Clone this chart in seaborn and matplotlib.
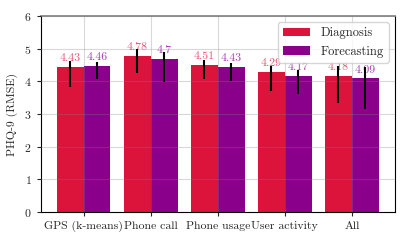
import pandas as pd
import numpy as np
import matplotlib
matplotlib.use("Agg")
import matplotlib.pyplot as plt
import seaborn as sns

# values
features = ["GPS (k-means)", "Phone call", "Phone usage", "User activity", "All"]
diagnosis = [4.43, 4.78, 4.51, 4.29, 4.18]
forecasting = [4.46, 4.70, 4.43, 4.17, 4.09]
# error bar ends (low, high)
diag_low = [3.82, 4.25, 4.07, 3.70, 3.33]
diag_high = [4.63, 4.98, 4.65, 4.48, 4.47]
fore_low = [4.07, 3.97, 4.01, 3.61, 3.15]
fore_high = [4.58, 4.89, 4.57, 4.35, 4.43]

tasks = ["Diagnosis", "Forecasting"]
colors = ["#DC143C", "#8B008B"]
label_colors = ["#EA5473", "#A83FB4"]

df = pd.DataFrame({
    "feature": features * 2,
    "task": ["Diagnosis"] * 5 + ["Forecasting"] * 5,
    "rmse": diagnosis + forecasting,
})

sns.set_style("white")
plt.rcParams["font.family"] = "serif"
plt.rcParams["font.serif"] = ["cmr10"]
plt.rcParams["mathtext.fontset"] = "cm"
plt.rcParams["axes.unicode_minus"] = False
plt.rcParams["axes.formatter.use_mathtext"] = True

fig, ax = plt.subplots(figsize=(4.07, 2.44), dpi=100)
sns.barplot(data=df, x="feature", y="rmse", hue="task", palette=colors,
            errorbar=None, width=0.8, saturation=1, ax=ax, linewidth=0)

lows = [diag_low, fore_low]
highs = [diag_high, fore_high]
vals = [diagnosis, forecasting]
bar_sets = list(ax.containers)
for i, cont in enumerate(bar_sets):
    xs = np.array([p.get_x() + p.get_width() / 2 for p in cont.patches])
    v = np.array(vals[i])
    yerr = [v - np.array(lows[i]), np.array(highs[i]) - v]
    ax.errorbar(xs, v, yerr=yerr, fmt="none", ecolor="black", elinewidth=1.5,
                capsize=0, zorder=4)
    for x, y in zip(xs, v):
        ax.text(x, y + 0.12, f"{y:g}", ha="center", va="bottom",
                color=label_colors[i], fontsize=8.5, zorder=3)

ax.set_xlim(-0.64, 4.64)
ax.set_ylim(0, 6)
ax.set_yticks(range(7))
ax.set_xlabel("")
ax.set_ylabel("PHQ-9 (RMSE)", fontsize=8.5)
ax.tick_params(axis="both", labelsize=8.5, length=3, bottom=True, left=True)
ax.set_axisbelow(False)
ax.grid(True, color="grey", alpha=0.3, linewidth=0.8)
for s in ax.spines.values():
    s.set_color("black")
    s.set_linewidth(0.8)
ax.spines["top"].set_color("#888888")
ax.spines["top"].set_linewidth(1.3)

ax.legend(loc="upper right", fontsize=9, title=None, handlelength=2.2)

fig.subplots_adjust(left=0.1, right=0.97, top=0.934, bottom=0.131)
fig.savefig("out.png", dpi=100)
